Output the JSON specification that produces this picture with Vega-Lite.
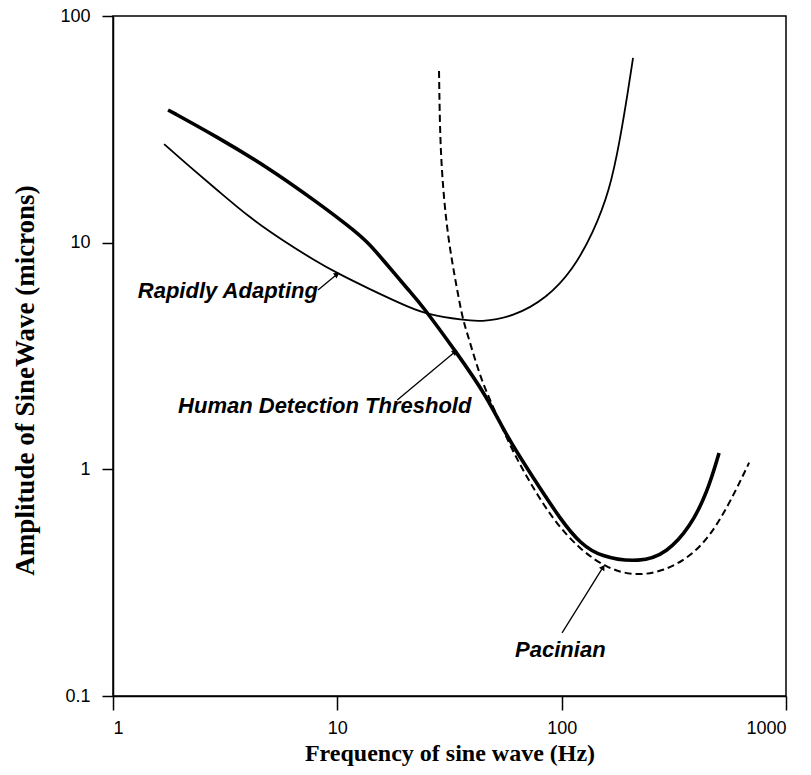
{
  "$schema": "https://vega.github.io/schema/vega-lite/v6.json",
  "width": 673,
  "height": 680,
  "autosize": "none",
  "padding": {"left": 113, "top": 16, "right": 25, "bottom": 79},
  "background": "white",
  "config": {
    "view": {"stroke": "black", "strokeWidth": 1.5},
    "axis": {
      "grid": false,
      "domainColor": "black",
      "domainWidth": 1.5,
      "tickColor": "black",
      "tickWidth": 1.5,
      "labelColor": "black",
      "labelFont": "Liberation Sans",
      "labelFontSize": 18,
      "titleColor": "black",
      "titleFont": "Liberation Serif",
      "titleFontWeight": "bold"
    }
  },
  "datasets": {
    "curves": [
      {"series": "Human", "f": 1.76, "a": 38.5},
      {"series": "Human", "f": 2.91, "a": 29.3},
      {"series": "Human", "f": 4.86, "a": 21.6},
      {"series": "Human", "f": 8.12, "a": 15.1},
      {"series": "Human", "f": 11.4, "a": 11.7},
      {"series": "Human", "f": 13.6, "a": 10.1},
      {"series": "Human", "f": 16.0, "a": 8.39},
      {"series": "Human", "f": 21.1, "a": 6.06},
      {"series": "Human", "f": 23.4, "a": 5.42},
      {"series": "Human", "f": 34.2, "a": 3.25},
      {"series": "Human", "f": 46.5, "a": 2.09},
      {"series": "Human", "f": 57.1, "a": 1.39},
      {"series": "Human", "f": 72.3, "a": 0.964},
      {"series": "Human", "f": 101, "a": 0.581},
      {"series": "Human", "f": 121, "a": 0.473},
      {"series": "Human", "f": 148, "a": 0.411},
      {"series": "Human", "f": 224, "a": 0.387},
      {"series": "Human", "f": 295, "a": 0.428},
      {"series": "Human", "f": 374, "a": 0.557},
      {"series": "Human", "f": 445, "a": 0.787},
      {"series": "Human", "f": 503, "a": 1.18},
      {"series": "Rapid", "f": 1.69, "a": 27.2},
      {"series": "Rapid", "f": 2.2, "a": 21.6},
      {"series": "Rapid", "f": 2.91, "a": 17.1},
      {"series": "Rapid", "f": 4.08, "a": 12.85},
      {"series": "Rapid", "f": 5.73, "a": 10.2},
      {"series": "Rapid", "f": 8.12, "a": 8.22},
      {"series": "Rapid", "f": 9.97, "a": 7.35},
      {"series": "Rapid", "f": 13.6, "a": 6.31},
      {"series": "Rapid", "f": 21.1, "a": 5.15},
      {"series": "Rapid", "f": 25.9, "a": 4.8},
      {"series": "Rapid", "f": 36.3, "a": 4.56},
      {"series": "Rapid", "f": 43.3, "a": 4.47},
      {"series": "Rapid", "f": 60.7, "a": 4.7},
      {"series": "Rapid", "f": 86.0, "a": 5.7},
      {"series": "Rapid", "f": 112, "a": 7.58},
      {"series": "Rapid", "f": 138, "a": 11.0},
      {"series": "Rapid", "f": 164, "a": 17.1},
      {"series": "Rapid", "f": 182, "a": 28.4},
      {"series": "Rapid", "f": 198, "a": 47.2},
      {"series": "Rapid", "f": 208, "a": 65.3},
      {"series": "Pacinian", "f": 28.4, "a": 57.2},
      {"series": "Pacinian", "f": 28.7, "a": 28.4},
      {"series": "Pacinian", "f": 29.6, "a": 17.1},
      {"series": "Pacinian", "f": 31.2, "a": 10.3},
      {"series": "Pacinian", "f": 34.2, "a": 6.18},
      {"series": "Pacinian", "f": 36.3, "a": 4.56},
      {"series": "Pacinian", "f": 37.9, "a": 4.0},
      {"series": "Pacinian", "f": 43.3, "a": 2.56},
      {"series": "Pacinian", "f": 48.0, "a": 2.02},
      {"series": "Pacinian", "f": 58.9, "a": 1.26},
      {"series": "Pacinian", "f": 72.3, "a": 0.871},
      {"series": "Pacinian", "f": 91.6, "a": 0.598},
      {"series": "Pacinian", "f": 121, "a": 0.441},
      {"series": "Pacinian", "f": 159, "a": 0.367},
      {"series": "Pacinian", "f": 208, "a": 0.339},
      {"series": "Pacinian", "f": 283, "a": 0.352},
      {"series": "Pacinian", "f": 402, "a": 0.428},
      {"series": "Pacinian", "f": 524, "a": 0.617},
      {"series": "Pacinian", "f": 685, "a": 1.07}
    ],
    "labels": [
      {"label": "Rapidly Adapting", "f": 1.29, "a": 5.7},
      {"label": "Human Detection Threshold", "f": 1.95, "a": 1.77},
      {"label": "Pacinian", "f": 62.0, "a": 0.149}
    ],
    "arrows": [
      {"label": "Rapidly Adapting", "f1": 8.2, "a1": 6.18, "f2": 9.97, "a2": 7.25},
      {"label": "Human Detection Threshold", "f1": 18.5, "a1": 2.02, "f2": 33.5, "a2": 3.3},
      {"label": "Pacinian", "f1": 100.4, "a1": 0.19, "f2": 153, "a2": 0.37}
    ]
  },
  "layer": [
    {
      "data": {"name": "curves"},
      "transform": [{"filter": "datum.series === 'Rapid'"}],
      "mark": {"type": "line", "color": "black", "strokeWidth": 1.8, "interpolate": "basis"},
      "encoding": {
        "x": {"field": "f", "type": "quantitative", "scale": {"type": "log", "domain": [1, 1000], "nice": false},
          "axis": {"values": [1, 10, 100, 1000], "format": "~g", "tickSize": 14, "labelPadding": 9, "title": "Frequency of sine wave (Hz)", "titleFontSize": 24, "titlePadding": 4}},
        "y": {"field": "a", "type": "quantitative", "scale": {"type": "log", "domain": [0.1, 100], "nice": false},
          "axis": {"values": [0.1, 1, 10, 100], "format": "~g", "tickSize": 11, "labelPadding": 12, "title": "Amplitude of SineWave (microns)", "titleFontSize": 27, "titleX": -80, "titleY": 364, "titleBaseline": "alphabetic", "titleAlign": "center"}}
      }
    },
    {
      "data": {"name": "curves"},
      "transform": [{"filter": "datum.series === 'Pacinian'"}],
      "mark": {"type": "line", "color": "black", "strokeWidth": 2, "strokeDash": [7, 4], "interpolate": "basis"},
      "encoding": {
        "x": {"field": "f", "type": "quantitative"},
        "y": {"field": "a", "type": "quantitative"}
      }
    },
    {
      "data": {"name": "curves"},
      "transform": [{"filter": "datum.series === 'Human'"}],
      "mark": {"type": "line", "color": "black", "strokeWidth": 3.6, "interpolate": "basis"},
      "encoding": {
        "x": {"field": "f", "type": "quantitative"},
        "y": {"field": "a", "type": "quantitative"}
      }
    },
    {
      "data": {"name": "arrows"},
      "mark": {"type": "rule", "color": "black", "strokeWidth": 1.3},
      "encoding": {
        "x": {"field": "f1", "type": "quantitative"},
        "y": {"field": "a1", "type": "quantitative"},
        "x2": {"field": "f2"},
        "y2": {"field": "a2"}
      }
    },
    {
      "data": {"name": "arrows"},
      "transform": [{"filter": "datum.label === 'Rapidly Adapting'"}],
      "mark": {"type": "point", "shape": "triangle-up", "filled": true, "color": "black", "size": 40, "angle": 56, "opacity": 1},
      "encoding": {
        "x": {"field": "f2", "type": "quantitative"},
        "y": {"field": "a2", "type": "quantitative"}
      }
    },
    {
      "data": {"name": "arrows"},
      "transform": [{"filter": "datum.label === 'Human Detection Threshold'"}],
      "mark": {"type": "point", "shape": "triangle-up", "filled": true, "color": "black", "size": 40, "angle": 51, "opacity": 1},
      "encoding": {
        "x": {"field": "f2", "type": "quantitative"},
        "y": {"field": "a2", "type": "quantitative"}
      }
    },
    {
      "data": {"name": "arrows"},
      "transform": [{"filter": "datum.label === 'Pacinian'"}],
      "mark": {"type": "point", "shape": "triangle-up", "filled": true, "color": "black", "size": 40, "angle": 32, "opacity": 1},
      "encoding": {
        "x": {"field": "f2", "type": "quantitative"},
        "y": {"field": "a2", "type": "quantitative"}
      }
    },
    {
      "data": {"name": "labels"},
      "mark": {"type": "text", "align": "left", "baseline": "alphabetic", "font": "Liberation Sans", "fontSize": 22, "fontStyle": "italic", "fontWeight": "bold", "color": "black"},
      "encoding": {
        "x": {"field": "f", "type": "quantitative"},
        "y": {"field": "a", "type": "quantitative"},
        "text": {"field": "label"}
      }
    }
  ]
}
